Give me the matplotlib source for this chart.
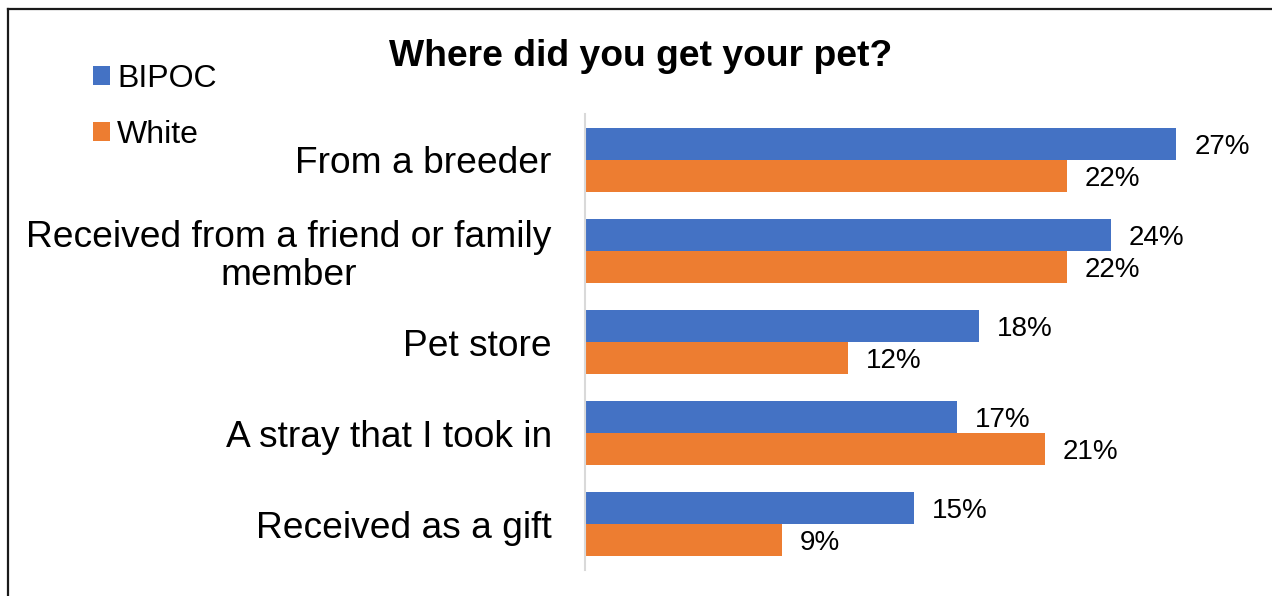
import numpy as np
import matplotlib
matplotlib.use("Agg")
import matplotlib.pyplot as plt
from matplotlib.patches import Patch
from matplotlib.lines import Line2D

plt.rcParams["font.family"] = ["Liberation Sans", "DejaVu Sans"]

categories = ["From a breeder",
              "Received from a friend or family\nmember",
              "Pet store",
              "A stray that I took in",
              "Received as a gift"]
bipoc = [27, 24, 18, 17, 15]
white = [22, 22, 12, 21, 9]

BLUE = "#4472C4"
ORANGE = "#ED7D31"

W, H = 1272, 596
fig = plt.figure(figsize=(W / 100, H / 100), dpi=100)
ax = fig.add_axes([585 / W, 26 / H, 657 / W, 456 / H])

y = np.arange(len(categories))
h = 0.351
b1 = ax.barh(y - h / 2, bipoc, height=h, color=BLUE, label="BIPOC")
b2 = ax.barh(y + h / 2, white, height=h, color=ORANGE, label="White")
for bars, vals in [(b1, bipoc), (b2, white)]:
    txts = ax.bar_label(bars, labels=[f"{v}%" for v in vals], padding=13,
                        fontsize=20)
    for t in txts:
        t.set_va("center_baseline")

ax.set_xlim(0, 30)
ax.set_ylim(len(categories) - 0.5, -0.5)
ax.set_yticks(y)
ax.set_yticklabels(categories, fontsize=26.7, multialignment="center",
                   linespacing=1.13)
ax.tick_params(axis="y", length=0, pad=24)
ax.set_xticks([])
for side in ["top", "right", "bottom"]:
    ax.spines[side].set_visible(False)
ax.spines["left"].set_color("#D9D9D9")
ax.spines["left"].set_linewidth(1.5)

fig.text(641 / W, 1 - 57 / H, "Where did you get your pet?", fontsize=26.8,
         fontweight="bold", ha="center", va="center")

handles = [Patch(facecolor=BLUE), Patch(facecolor=ORANGE)]
fig.legend(handles, ["BIPOC", "White"], loc="upper left",
           bbox_to_anchor=(93 / W, 1 - 64 / H), frameon=False, fontsize=23,
           handlelength=0.53, handleheight=0.53, handletextpad=0.22,
           labelspacing=0.8, borderpad=0, borderaxespad=0)

# outer frame (top and left edges)
fig.add_artist(Line2D([8 / W, 1], [1 - 9 / H, 1 - 9 / H], color="#1a1a1a",
                      linewidth=1.6, transform=fig.transFigure))
fig.add_artist(Line2D([8 / W, 8 / W], [0, 1 - 9 / H], color="#1a1a1a",
                      linewidth=1.6, transform=fig.transFigure))

fig.savefig("out.png", dpi=100)
